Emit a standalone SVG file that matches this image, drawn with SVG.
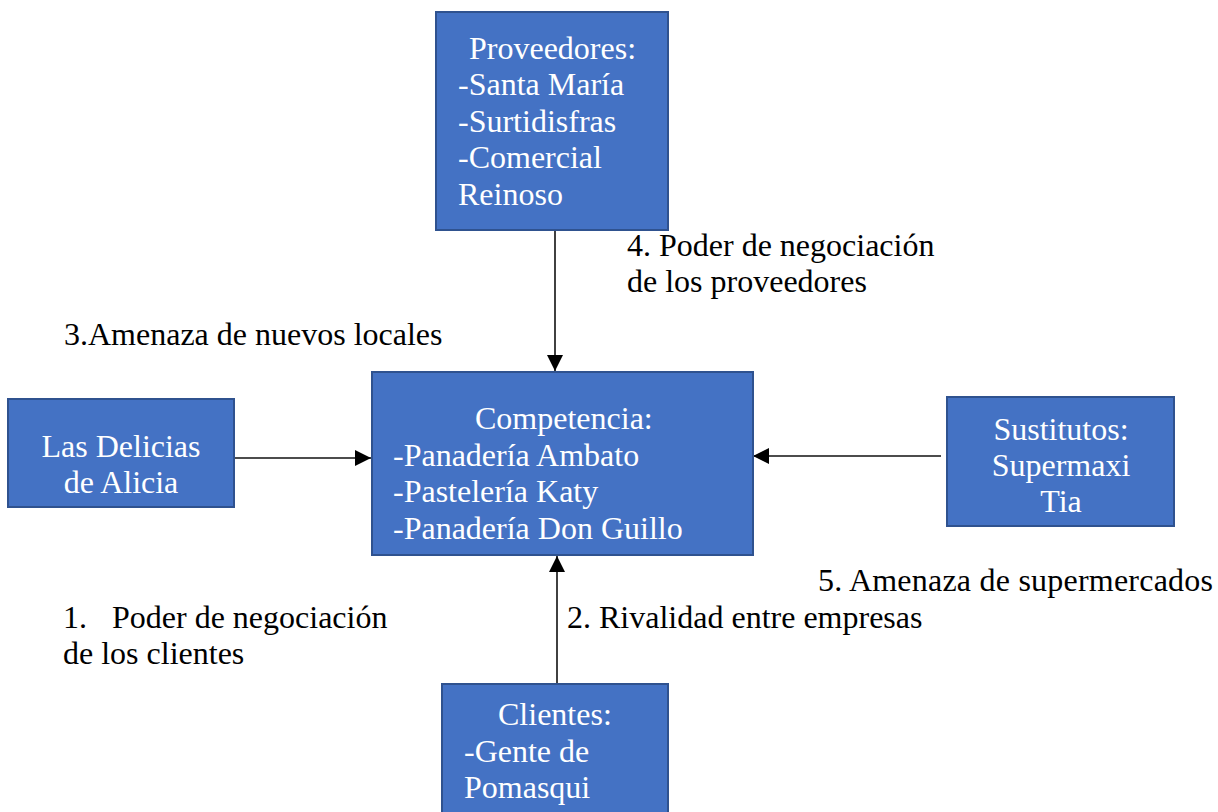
<svg xmlns="http://www.w3.org/2000/svg" width="1218" height="812" viewBox="0 0 1218 812">
<style>
.box{fill:#4472C4;stroke:#2F528F;stroke-width:2}
.bt{font-family:'Liberation Serif',Tinos,'Times New Roman',Times,'DejaVu Serif',serif;font-size:32px;fill:#ffffff}
.lt{font-family:'Liberation Serif',Tinos,'Times New Roman',Times,'DejaVu Serif',serif;font-size:32px;fill:#000000}
.c{text-anchor:middle}
.conn{stroke:#111111;stroke-width:1.6;fill:none;marker-end:url(#ah)}
</style>
<defs>
<marker id="ah" markerUnits="userSpaceOnUse" markerWidth="16" markerHeight="16" refX="16" refY="8" orient="auto">
<path d="M0,0 L16,8 L0,16 z" fill="#000000"/>
</marker>
</defs>
<rect width="1218" height="812" fill="#ffffff"/>
<g id="connectors">
<line class="conn" x1="555" y1="230" x2="555" y2="371"/>
<line class="conn" x1="234" y1="458" x2="371" y2="458"/>
<line class="conn" x1="941" y1="456" x2="753" y2="456"/>
<line class="conn" x1="557" y1="684" x2="557" y2="556"/>
</g>
<g id="proveedores">
<rect class="box" x="436" y="12" width="232" height="218"/>
<text class="bt" x="469" y="59">Proveedores:</text>
<text class="bt" x="458" y="95">-Santa María</text>
<text class="bt" x="458" y="132">-Surtidisfras</text>
<text class="bt" x="458" y="168">-Comercial</text>
<text class="bt" x="458" y="205">Reinoso</text>
</g>
<g id="competencia">
<rect class="box" x="372" y="372" width="381" height="183"/>
<text class="bt" x="475" y="429">Competencia:</text>
<text class="bt" x="393" y="466">-Panadería Ambato</text>
<text class="bt" x="393" y="502">-Pastelería Katy</text>
<text class="bt" x="393" y="539">-Panadería Don Guillo</text>
</g>
<g id="delicias">
<rect class="box" x="8" y="399" width="226" height="108"/>
<text class="bt c" x="121" y="457">Las Delicias</text>
<text class="bt c" x="121" y="493">de Alicia</text>
</g>
<g id="sustitutos">
<rect class="box" x="947" y="397" width="227" height="129"/>
<text class="bt c" x="1061" y="440">Sustitutos:</text>
<text class="bt c" x="1061" y="476">Supermaxi</text>
<text class="bt c" x="1061" y="512">Tia</text>
</g>
<g id="clientes">
<rect class="box" x="442" y="684" width="226" height="140"/>
<text class="bt" x="498" y="725">Clientes:</text>
<text class="bt" x="464" y="762">-Gente de</text>
<text class="bt" x="464" y="798">Pomasqui</text>
</g>
<g id="labels">
<text class="lt" x="627" y="256">4. Poder de negociación</text>
<text class="lt" x="627" y="292">de los proveedores</text>
<text class="lt" x="64" y="345">3.Amenaza de nuevos locales</text>
<text class="lt" x="818" y="591" textLength="395" lengthAdjust="spacing">5. Amenaza de supermercados</text>
<text class="lt" x="63" y="628">1.<tspan x="112">Poder de negociación</tspan></text>
<text class="lt" x="63" y="664">de los clientes</text>
<text class="lt" x="567" y="628">2. Rivalidad entre empresas</text>
</g>
</svg>
